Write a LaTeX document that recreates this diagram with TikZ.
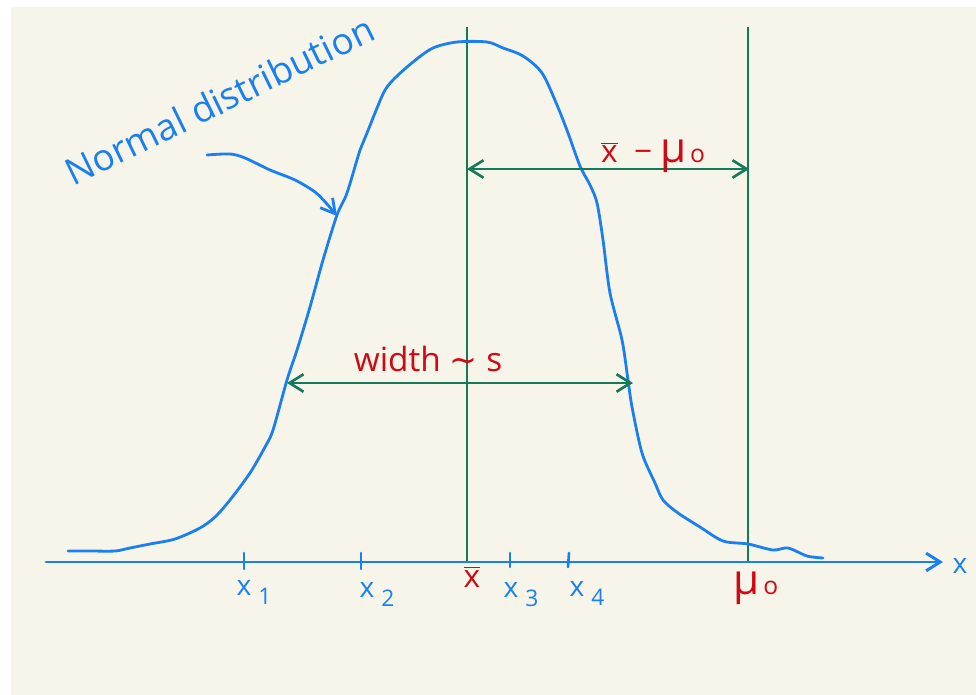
\documentclass[tikz,border=0pt]{standalone}
\usepackage{fontspec}
\setmainfont{Open Sans}
\newfontfamily\symfont{DejaVu Sans}
\usetikzlibrary{arrows.meta}
\definecolor{cream}{HTML}{F7F5EA}
\definecolor{pblue}{HTML}{1A80F0}
\definecolor{pgreen}{HTML}{157A5A}
\definecolor{pred}{HTML}{D00A14}
\newcommand\lsub[1]{\kern4pt\raisebox{-0.35em}{\fontsize{13}{13}\selectfont #1}}
\newcommand\osub{\kern2pt{\fontsize{14}{14}\selectfont o}}
\newcommand\xbar{$\overline{\mbox{x}}$}
\begin{document}
\begin{tikzpicture}[x=0.02cm,y=-0.02cm,
  blueline/.style={draw=pblue, line width=1.6pt, line cap=round, line join=round},
  vline/.style={draw=pgreen, line width=1.1pt},
  garrow/.style={draw=pgreen, line width=1.5pt, line cap=round,
     {Straight Barb[length=8pt,width=10pt]}-{Straight Barb[length=8pt,width=10pt]}},
  blbl/.style={text=pblue, font=\fontsize{16}{18}\selectfont, inner sep=0pt},
  rlbl/.style={text=pred, font=\fontsize{18}{20}\selectfont, inner sep=0pt},
  tick/.style={draw=pblue, line width=1.5pt, line cap=round}]
\useasboundingbox (0,0) rectangle (976,695);
\fill[white] (0,0) rectangle (976,695);
\fill[cream] (11,7) rectangle (976,695);

% coordinates
\coordinate (xbtop) at (467,27);
\coordinate (xbbot) at (467,562);
\coordinate (mutop) at (748,27);
\coordinate (mubot) at (748,562);
\coordinate (dl) at (467,169);
\coordinate (dr) at (749,169);
\coordinate (wl) at (287,383);
\coordinate (wr) at (633,383);
\coordinate (axs) at (46,562);
\coordinate (axe) at (943,562);
\coordinate (ps) at (207,155);
\coordinate (pe) at (337,216);

% vertical lines
\draw[vline] (xbtop) -- (xbbot);
\draw[vline] (mutop) -- (mubot);

% distribution curve
\draw[blueline] plot[smooth, tension=0.5] coordinates {
 (68,551) (90,551) (115,551) (130,548) (150,544) (175,539) (200,528) (215,517)
 (230,500) (250,473) (265,447) (273,430) (287,380) (297,350) (310,307) (323,260)
 (337,215) (347,193) (360,150) (367,133) (383,94) (393,80) (413,62) (433,48)
 (457,42) (487,42) (503,48) (523,56) (542,73) (557,105) (568,133) (580,166)
 (590,185) (597,203) (603,240) (610,293) (622,340) (628,380) (632,407) (642,453)
 (655,483) (663,500) (678,513) (700,527) (723,541) (748,544) (773,550) (788,548)
 (807,556) (823,558)};

% pointer from label to curve
\draw[blueline, -{Straight Barb[length=8pt,width=9pt]}] plot[smooth, tension=0.5]
  coordinates {(ps) (230,154) (245,158) (270,170) (295,180) (315,192) (327,204) (pe)};

% green double arrows
\draw[garrow] (dl) -- (dr);
\draw[garrow] (wl) -- (wr);

% axis
\draw[blueline, line width=1.7pt, -{Straight Barb[length=8pt,width=10pt]}] (axs) -- (axe);
\node[blbl, anchor=base] (xlab) at (960,573) {x};

% ticks
\coordinate (t1a) at (244,553); \coordinate (t1b) at (244,569);
\coordinate (t2a) at (361,553); \coordinate (t2b) at (361,569);
\coordinate (t3a) at (510,553); \coordinate (t3b) at (510,567);
\coordinate (t4a) at (569,553); \coordinate (t4b) at (568,567);
\draw[tick] (t1a) -- (t1b);
\draw[tick] (t2a) -- (t2b);
\draw[tick] (t3a) -- (t3b);
\draw[tick] (t4a) -- (t4b);

% tick labels
\node[blbl, anchor=base] (x1) at (254,595) {x\lsub{1}};
\node[blbl, anchor=base] (x2) at (377,597) {x\lsub{2}};
\node[blbl, anchor=base] (x3) at (521,597) {x\lsub{3}};
\node[blbl, anchor=base] (x4) at (587,596) {x\lsub{4}};
\node[rlbl, anchor=base] (xb) at (472,587) {\xbar};
\node[rlbl, anchor=base] (mu) at (756,594) {{\fontsize{24}{24}\selectfont μ}\osub};

% arrow labels
\node[rlbl, anchor=base] (dlab) at (653,163) {\xbar\ \ −\ {\fontsize{24}{24}\selectfont μ}\osub};
\node[rlbl, anchor=base] (wlab) at (428,372) {\fontsize{19}{21}\selectfont width {\symfont ∼} s};

% title
\node[text=pblue, font=\fontsize{21}{24}\selectfont, anchor=base west, rotate=26, inner sep=0pt]
  (title) at (73,187) {Normal distribution};
\end{tikzpicture}
\end{document}
